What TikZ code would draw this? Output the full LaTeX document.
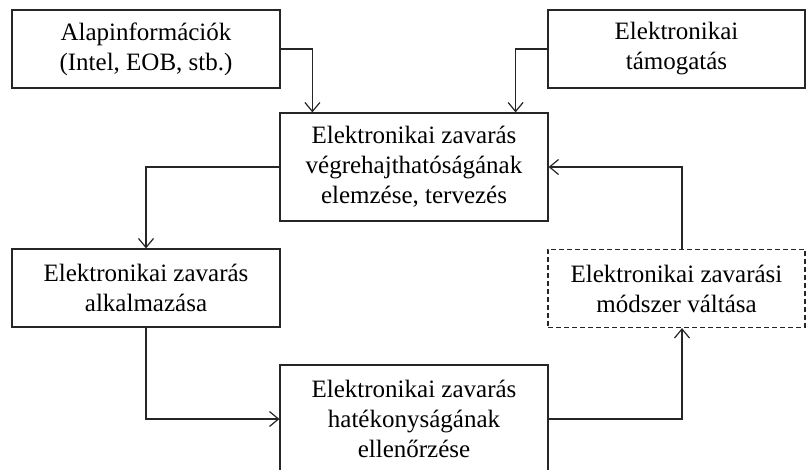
\documentclass[tikz,border=0pt]{standalone}
\usepackage{fontspec}
\setmainfont{Liberation Serif}
\usetikzlibrary{arrows.meta}

\begin{document}
\begin{tikzpicture}[x=1pt,y=-1pt,->,>={Straight Barb[length=9pt,width=15pt]},line width=1.2pt,draw=black!85,
                    box/.style={draw=black!85,align=center,minimum width=268pt,minimum height=78pt,inner sep=0pt,font=\fontsize{25}{30}\selectfont},
                    bigbox/.style={box,minimum height=108pt}]
                    \clip (0,0) rectangle (806,470);
                    \node[box] (alap) at (146,49) {Alapinformációk\\(Intel, EOB, stb.)};
                    \node[box, minimum width=257pt] (tam) at (676.5,49) {Elektronikai\\támogatás};
                    \node[bigbox] (terv) at (414,167) {Elektronikai zavarás\\végrehajthatóságának\\elemzése, tervezés};
                    \node[box] (alk) at (146,288) {Elektronikai zavarás\\alkalmazása};
                    \node[bigbox] (ellen) at (414,419) {Elektronikai zavarás\\hatékonyságának\\ellenőrzése};
                    \node[box, minimum width=257pt, dash pattern=on 5pt off 3pt] (valt) at (676.5,288.5) {Elektronikai zavarási\\módszer váltása};

                    \draw (alap.east) -| ([xshift=33pt]terv.north west);
                    \draw (tam.west) -| ([xshift=-33pt]terv.north east);
                    \draw (terv.west) -| (alk.north);
                    \draw (alk.south) |- (ellen.west);
                    \draw (ellen.east) -| ([xshift=5.5pt]valt.south);
                    \draw ([xshift=5.5pt]valt.north) |- (terv.east);
                \end{tikzpicture}
\end{document}
